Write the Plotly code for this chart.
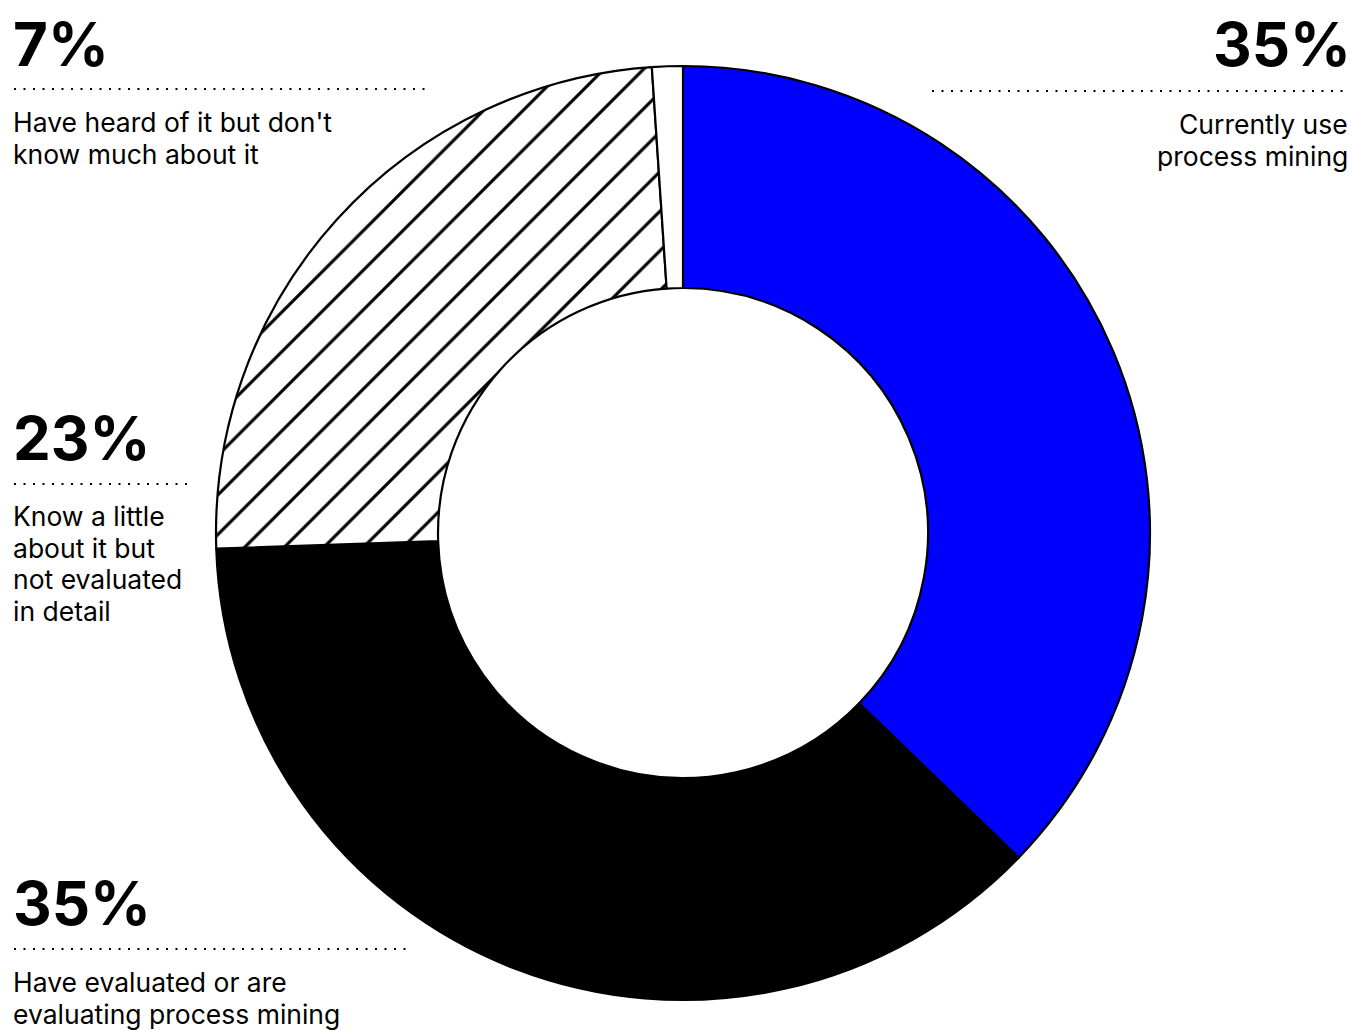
import plotly.graph_objects as go

# Survey breakdown: awareness / adoption of process mining
categories = [
    "Currently use process mining",
    "Have evaluated or are evaluating process mining",
    "Know a little about it but not evaluated in detail",
    "Have heard of it but don't know much about it",
]
values = [35, 35, 23, 1]
slice_colors = ["#0000FF", "#000000", "#FFFFFF", "#FFFFFF"]
slice_patterns = ["", "", "/", ""]

# Callout texts, one entry per text line
callout_pcts = ["35%", "35%", "23%", "7%"]
callout_lines = [
    ["Currently use", "process mining"],
    ["Have evaluated or are", "evaluating process mining"],
    ["Know a little", "about it but", "not evaluated", "in detail"],
    ["Have heard of it but don't", "know much about it"],
]

W, H = 1353, 1030
cx, cy, r_out, r_in = 683, 533, 467, 245

fig = go.Figure()
fig.add_trace(go.Pie(
    labels=categories,
    values=values,
    sort=False,
    direction="clockwise",
    rotation=0,
    hole=r_in / r_out,
    textinfo="none",
    hoverinfo="label+percent",
    showlegend=False,
    marker=dict(
        colors=slice_colors,
        line=dict(color="#000000", width=2.2),
        pattern=dict(shape=slice_patterns, fgcolor="#000000", bgcolor="#FFFFFF",
                     size=28, solidity=0.11, fillmode="replace"),
    ),
    domain=dict(x=[(cx - r_out) / W, (cx + r_out) / W],
                y=[(H - cy - r_out) / H, (H - cy + r_out) / H]),
))

FONT = "Inter"
BIG_SIZE, BODY_SIZE = 60, 26.5
BIG = dict(family=FONT, size=BIG_SIZE, color="#000000", weight="bold")
BODY = dict(family=FONT, size=BODY_SIZE, color="#000000")
LINE_GAP = 31.5


def mid_from_baseline(baseline, size):
    # vertical centre of an annotation box for a given text baseline
    return baseline - 0.36 * size - 1


# (side, big-number baseline, dotted line x0, x1, y, first body baseline)
callouts = [
    ("right", 67, 932, 1348, 91, 135),
    ("left", 926, 14, 406, 949, 993),
    ("left", 461, 14, 188, 484, 527),
    ("left", 67, 14, 430, 89, 133),
]

annotations = []
shapes = []
for (side, big_base, lx0, lx1, ly, body_base), pct, lines in zip(callouts, callout_pcts, callout_lines):
    bx = 1353 if side == "right" else 11
    tx = 1350 if side == "right" else 11
    annotations.append(dict(x=bx, y=mid_from_baseline(big_base, BIG_SIZE), xref="x", yref="y",
                            text=pct, showarrow=False, xanchor=side, yanchor="middle",
                            align=side, font=BIG))
    for i, line in enumerate(lines):
        annotations.append(dict(x=tx, y=mid_from_baseline(body_base + i * LINE_GAP, BODY_SIZE),
                                xref="x", yref="y", text=line, showarrow=False,
                                xanchor=side, yanchor="middle", align=side, font=BODY))
    shapes.append(dict(type="line", xref="x", yref="y", x0=lx0, x1=lx1, y0=ly, y1=ly,
                       line=dict(color="#000000", width=2, dash="2px,7.5px")))

fig.update_layout(
    width=W, height=H,
    margin=dict(l=0, r=0, t=0, b=0),
    paper_bgcolor="#FFFFFF",
    plot_bgcolor="rgba(0,0,0,0)",
    xaxis=dict(range=[0, W], visible=False, domain=[0, 1], fixedrange=True),
    yaxis=dict(range=[H, 0], visible=False, domain=[0, 1], fixedrange=True),
    annotations=annotations,
    shapes=shapes,
)

fig.write_html("out.html")
